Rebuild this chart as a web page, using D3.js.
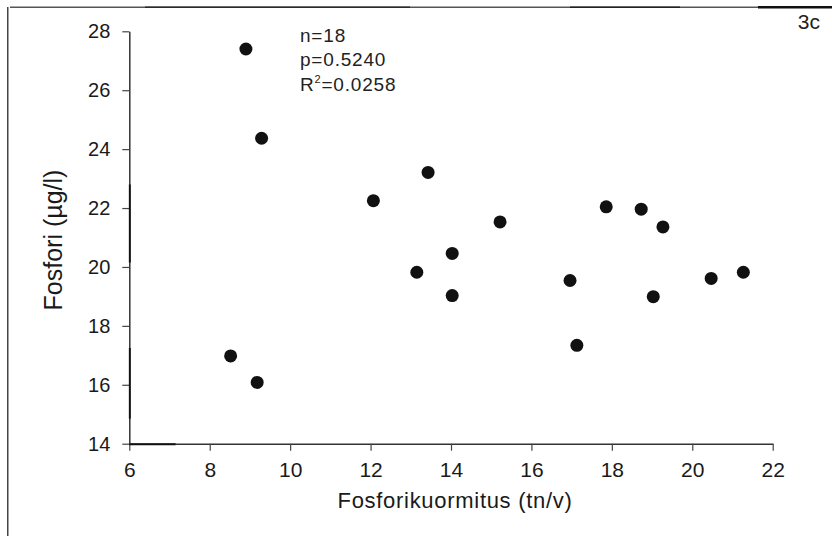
<!DOCTYPE html>
<html>
<head>
<meta charset="utf-8">
<script src="https://cdn.jsdelivr.net/npm/d3@7"></script>
<style>
  html, body { margin: 0; padding: 0; background: #fff; }
  svg { display: block; font-family: "Liberation Sans", Arial, Helvetica, sans-serif; }
</style>
</head>
<body>
<svg id="chart" width="832" height="536"></svg>
<script>
// Phosphorus load (t/yr) against phosphorus concentration (µg/l), 18 observations
const loadX = [8.90, 9.29, 8.52, 9.18, 12.07, 13.15, 13.43, 14.03, 14.03,
               15.22, 16.96, 17.13, 17.86, 18.73, 19.27, 19.03, 20.47, 21.27];
const phosY = [27.40, 24.37, 16.98, 16.08, 22.25, 19.82, 23.21, 20.46, 19.03,
               21.53, 19.54, 17.34, 22.04, 21.96, 21.36, 18.99, 19.61, 19.82];

const xTicks = [6, 8, 10, 12, 14, 16, 18, 20, 22];
const yTicks = [14, 16, 18, 20, 22, 24, 26, 28];

const statLines = ["n=18", "p=0.5240", "R", "=0.0258"];
const xTitle = "Fosforikuormitus (tn/v)";
const yTitle = "Fosfori (µg/l)";
const panelTag = "3c";

const svg = d3.select("#chart");

const x = d3.scaleLinear().domain([6, 22]).range([129.3, 772.7]);
const y = d3.scaleLinear().domain([14, 28]).range([443.7, 31.3]);

// outer panel frame (left and top edges), with the darker stretches of the top rule
const frame = svg.append("g");
frame.append("rect").attr("x", 7).attr("y", 7).attr("width", 1.5).attr("height", 529)
  .attr("fill", "#444");
frame.append("rect").attr("x", 10).attr("y", 6.5).attr("width", 822).attr("height", 1.5)
  .attr("fill", "#555");
frame.append("rect").attr("x", 145).attr("y", 6.5).attr("width", 265).attr("height", 1.5)
  .attr("fill", "#2a2a2a");
frame.append("rect").attr("x", 570).attr("y", 6.5).attr("width", 110).attr("height", 1.5)
  .attr("fill", "#222");
frame.append("rect").attr("x", 758).attr("y", 6).attr("width", 74).attr("height", 2.5)
  .attr("fill", "#111");

// axes
const xAxis = svg.append("g")
  .attr("transform", `translate(0,${y(14)})`)
  .call(d3.axisBottom(x).tickValues(xTicks).tickFormat(d3.format("d"))
        .tickSize(7).tickSizeOuter(0).tickPadding(11));

const yAxis = svg.append("g")
  .attr("transform", `translate(${x(6)},0)`)
  .call(d3.axisLeft(y).tickValues(yTicks).tickFormat(d3.format("d"))
        .tickSize(7).tickSizeOuter(0).tickPadding(12));

[xAxis, yAxis].forEach(g => {
  g.select(".domain").attr("stroke", "#333").attr("stroke-width", 1.5);
  g.selectAll(".tick line").attr("stroke", "#444").attr("stroke-width", 1.2);
  g.selectAll(".tick text").attr("fill", "#1a1a1a")
    .style("font-family", '"Liberation Sans", Arial, sans-serif');
});
xAxis.selectAll(".tick text").attr("font-size", 21);
yAxis.selectAll(".tick text").attr("font-size", 20);

// heavier stretches of the axis lines
const heavy = svg.append("g").attr("stroke", "#111").attr("stroke-width", 1.9);
heavy.append("line").attr("x1", x(6) + 0.5).attr("x2", x(6) + 0.5).attr("y1", y(22.8)).attr("y2", y(20.15));
heavy.append("line").attr("x1", x(6) + 0.5).attr("x2", x(6) + 0.5).attr("y1", y(17.25)).attr("y2", y(14.85));
heavy.append("line").attr("x1", x(6)).attr("x2", x(7.15)).attr("y1", y(14) + 0.5).attr("y2", y(14) + 0.5);

// points
svg.append("g").selectAll("circle")
  .data(loadX.map((v, i) => [v, phosY[i]]))
  .join("circle")
  .attr("cx", d => x(d[0]))
  .attr("cy", d => y(d[1]))
  .attr("r", 6.5)
  .attr("fill", "#111");

// regression statistics
const stats = svg.append("g")
  .attr("fill", "#222")
  .attr("font-size", 19)
  .attr("letter-spacing", 0.8);
stats.append("text").attr("x", 300).attr("y", 41.5).text(statLines[0]);
stats.append("text").attr("x", 300).attr("y", 65.5).text(statLines[1]);
const r2 = stats.append("text").attr("x", 300).attr("y", 90.5);
r2.append("tspan").text(statLines[2]);
r2.append("tspan").attr("font-size", 11).attr("dy", -8).text("2");
r2.append("tspan").attr("dy", 8).text(statLines[3]);

// axis titles
svg.append("text")
  .attr("x", 455)
  .attr("y", 508)
  .attr("text-anchor", "middle")
  .attr("font-size", 22)
  .attr("letter-spacing", 0.7)
  .attr("fill", "#1a1a1a")
  .text(xTitle);

svg.append("text")
  .attr("transform", "translate(62,240) rotate(-90)")
  .attr("text-anchor", "middle")
  .attr("font-size", 25)
  .attr("fill", "#1a1a1a")
  .text(yTitle);

// panel tag
svg.append("text")
  .attr("x", 820)
  .attr("y", 29)
  .attr("text-anchor", "end")
  .attr("font-size", 21)
  .attr("fill", "#222")
  .text(panelTag);
</script>
</body>
</html>
